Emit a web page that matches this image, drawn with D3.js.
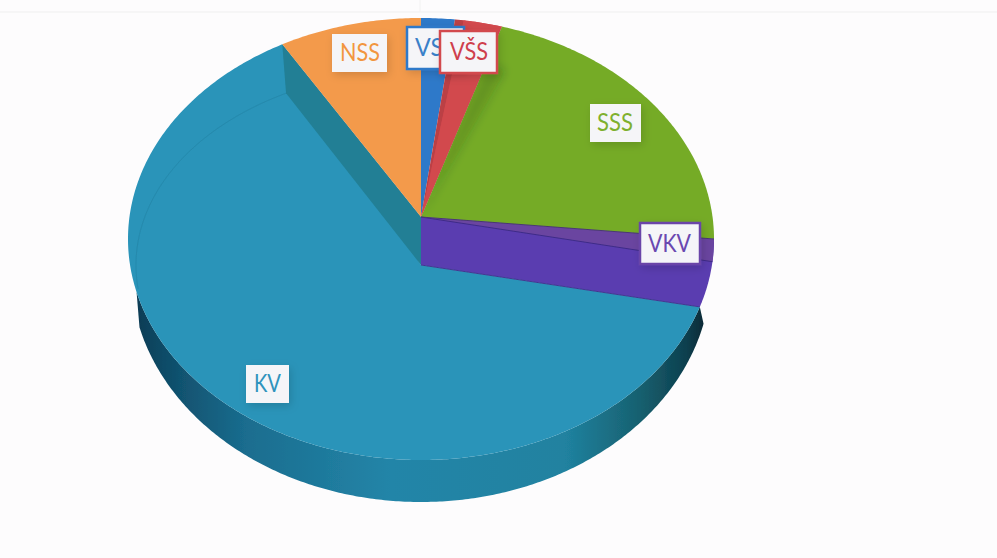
<!DOCTYPE html>
<html><head><meta charset="utf-8">
<script src="https://cdn.jsdelivr.net/npm/d3@7"></script>
<style>html,body{margin:0;padding:0;background:#fdfcfd}svg{display:block}</style>
</head><body><svg id="c" width="997" height="558"></svg>
<script>
const categories = ["VS","VŠS","SSS","VKV","KV","NSS"];
const values = [1.85,2.6,20.55,4.97,62.18,7.85];
const colors = ["#2f79c9","#d2484e","#74ab28","#6a45a8","#2a94b9","#f39a4c"];
const textColors = ["#3a80c8","#cf3f4c","#7fb02e","#6a48b0","#2f93bd","#f2963f"];

// layout (not data)
const cx=421, rx=293, cy=239, ry=221;
const apexTop=217, apexKV=265;
const lowRx=290, lowCy=272, lowRy=230;
const rimRx=285, rimCy=265, rimRy=195;
const vkvTopFrac=0.33;
// name: x, y, w, h, text x, text width
const labelBoxes = {NSS:[332,34,55,38,340,40],VS:[407,27,57,42,415,28],"VŠS":[440,31,57,42,450,38],SSS:[590,104,51,38,597,36],VKV:[640,223,60,41,648,43],KV:[246,365,43,38,254,27]};
const borderedLabels = ["VS","VŠS","VKV"];

const svg=d3.select("#c");
const defs=svg.append("defs");
const wallGrad=defs.append("linearGradient").attr("id","wall").attr("gradientUnits","userSpaceOnUse")
  .attr("x1",130).attr("x2",710).attr("y1",0).attr("y2",0);
[[0,"#0a3850"],[0.06,"#0f4c68"],[0.2,"#1a6d8f"],[0.45,"#2385a8"],[0.75,"#2082a0"],[0.88,"#17606f"],[0.96,"#0d3f4e"],[1,"#06222e"]]
  .forEach(([o,c])=>wallGrad.append("stop").attr("offset",o).attr("stop-color",c));
const shadow=defs.append("filter").attr("id","sh").attr("x","-30%").attr("y","-30%").attr("width","170%").attr("height","170%");
shadow.append("feDropShadow").attr("dx",2).attr("dy",3).attr("stdDeviation",4).attr("flood-color","#000").attr("flood-opacity",0.14);
defs.append("filter").attr("id","soft").attr("filterUnits","userSpaceOnUse").attr("x",0).attr("y",0).attr("width",997).attr("height",558)
  .append("feGaussianBlur").attr("stdDeviation",0.5);
defs.append("filter").attr("id","band").attr("filterUnits","userSpaceOnUse").attr("x",0).attr("y",0).attr("width",997).attr("height",558)
  .append("feGaussianBlur").attr("stdDeviation",4);

svg.append("rect").attr("width",997).attr("height",558).attr("fill","#fdfcfd");
svg.append("line").attr("x1",0).attr("x2",997).attr("y1",12).attr("y2",12).attr("stroke","#efefef");
svg.append("line").attr("x1",420).attr("x2",420).attr("y1",0).attr("y2",12).attr("stroke","#f2f2f2");

const g=svg.append("g").attr("filter","url(#soft)");
const pie=d3.pie().sort(null).value(d=>d)(values);
const slices=pie.map((p,i)=>({...p,name:categories[i],color:colors[i],text:textColors[i]}));
const byName=n=>slices.find(s=>s.name===n);
const kv=byName("KV"), vkv=byName("VKV"), sss=byName("SSS");
const pt=(a,X=rx,Y=cy,R=ry)=>[cx+X*Math.sin(a),Y-R*Math.cos(a)];
const span=(a0,a1,step=0.01)=>d3.range(a0,a1,step).concat([a1]);
const line=d3.line();
const poly=(pts,fill,op=1)=>g.append("path").attr("d",line(pts)+"Z").attr("fill",fill).attr("fill-opacity",op);
const wedge=(apex,a0,a1,fill,op=1)=>poly([[cx,apex],...span(a0,a1).map(a=>pt(a))],fill,op);

// outer side wall of KV: the lower edge starts a little ahead so the wall tapers in
const wallEnd=kv.endAngle-1.32;
poly([...span(kv.startAngle,wallEnd).map(a=>pt(a)),...span(kv.startAngle-0.085,wallEnd).reverse().map(a=>pt(a,lowRx,lowCy,lowRy))],"url(#wall)");

// KV surface
wedge(apexKV,kv.startAngle,kv.endAngle,kv.color);
poly([[cx,apexTop],pt(kv.endAngle),[cx,apexKV]],kv.color);

// inner wall of KV beside NSS
const e1=pt(kv.endAngle), e2=pt(kv.endAngle,rimRx,rimCy,rimRy);
poly([[cx,apexTop],e1,e2,[cx,apexKV]],"#227f95");
// faint rim of the lower surface
g.append("path").attr("d",line(span(kv.endAngle-1.2,kv.endAngle).map(a=>pt(a,rimRx,rimCy,rimRy))))
  .attr("fill","none").attr("stroke","#2589ac").attr("stroke-width",1);

// slices standing above KV
["NSS","VS","VŠS","SSS"].forEach(n=>{const s=byName(n);wedge(apexTop,s.startAngle,s.endAngle,s.color);});
// darker bands at the start of red and green
wedge(apexTop,byName("VŠS").startAngle,byName("VŠS").startAngle+0.03,"#3a1010",0.15);
poly([[cx,apexTop],...span(sss.startAngle,sss.startAngle+0.09).map(a=>{const p=pt(a);return [cx+(p[0]-cx)*0.8,apexTop+(p[1]-apexTop)*0.8];})],"#1e3a08",0.2)
  .attr("filter","url(#band)");
// red edge sits over the blurred band
wedge(apexTop,byName("VŠS").startAngle+0.03,byName("VŠS").endAngle,byName("VŠS").color);

// VKV wall, then its top surface
const v1=pt(vkv.endAngle);
poly([[cx,apexTop],...span(vkv.startAngle,vkv.endAngle).map(a=>pt(a)),[cx,apexKV]],"#5a3db0");
const vTopEnd=vkv.startAngle+(vkv.endAngle-vkv.startAngle)*vkvTopFrac;
wedge(apexTop,vkv.startAngle,vTopEnd,"#6a45a0");
g.append("path").attr("d",line([[cx,apexTop],pt(vTopEnd)])).attr("stroke","#3f2c88").attr("stroke-width",1);
g.append("path").attr("d",line([[cx,apexTop],pt(vkv.startAngle)])).attr("stroke","#4a3a70").attr("stroke-width",1);
g.append("path").attr("d",line([[cx,apexKV],v1])).attr("stroke","#3f3a90").attr("stroke-width",1);

// labels
["KV","NSS","SSS","VKV","VS","VŠS"].forEach(n=>{
  const s=byName(n), b=labelBoxes[n], bordered=borderedLabels.includes(n);
  svg.append("rect").attr("x",b[0]).attr("y",b[1]).attr("width",b[2]).attr("height",b[3])
    .attr("fill","#f5f5f8").attr("filter","url(#sh)")
    .attr("stroke",bordered?s.color:"none").attr("stroke-width",bordered?2.5:0);
  svg.append("text").attr("x",b[4]).attr("y",b[1]+b[3]/2+2)
    .attr("dominant-baseline","middle").attr("textLength",b[5]).attr("lengthAdjust","spacingAndGlyphs")
    .attr("font-family","Lato, 'Open Sans', sans-serif").attr("font-size",25)
    .attr("fill",s.text).text(n);
});
</script></body></html>
